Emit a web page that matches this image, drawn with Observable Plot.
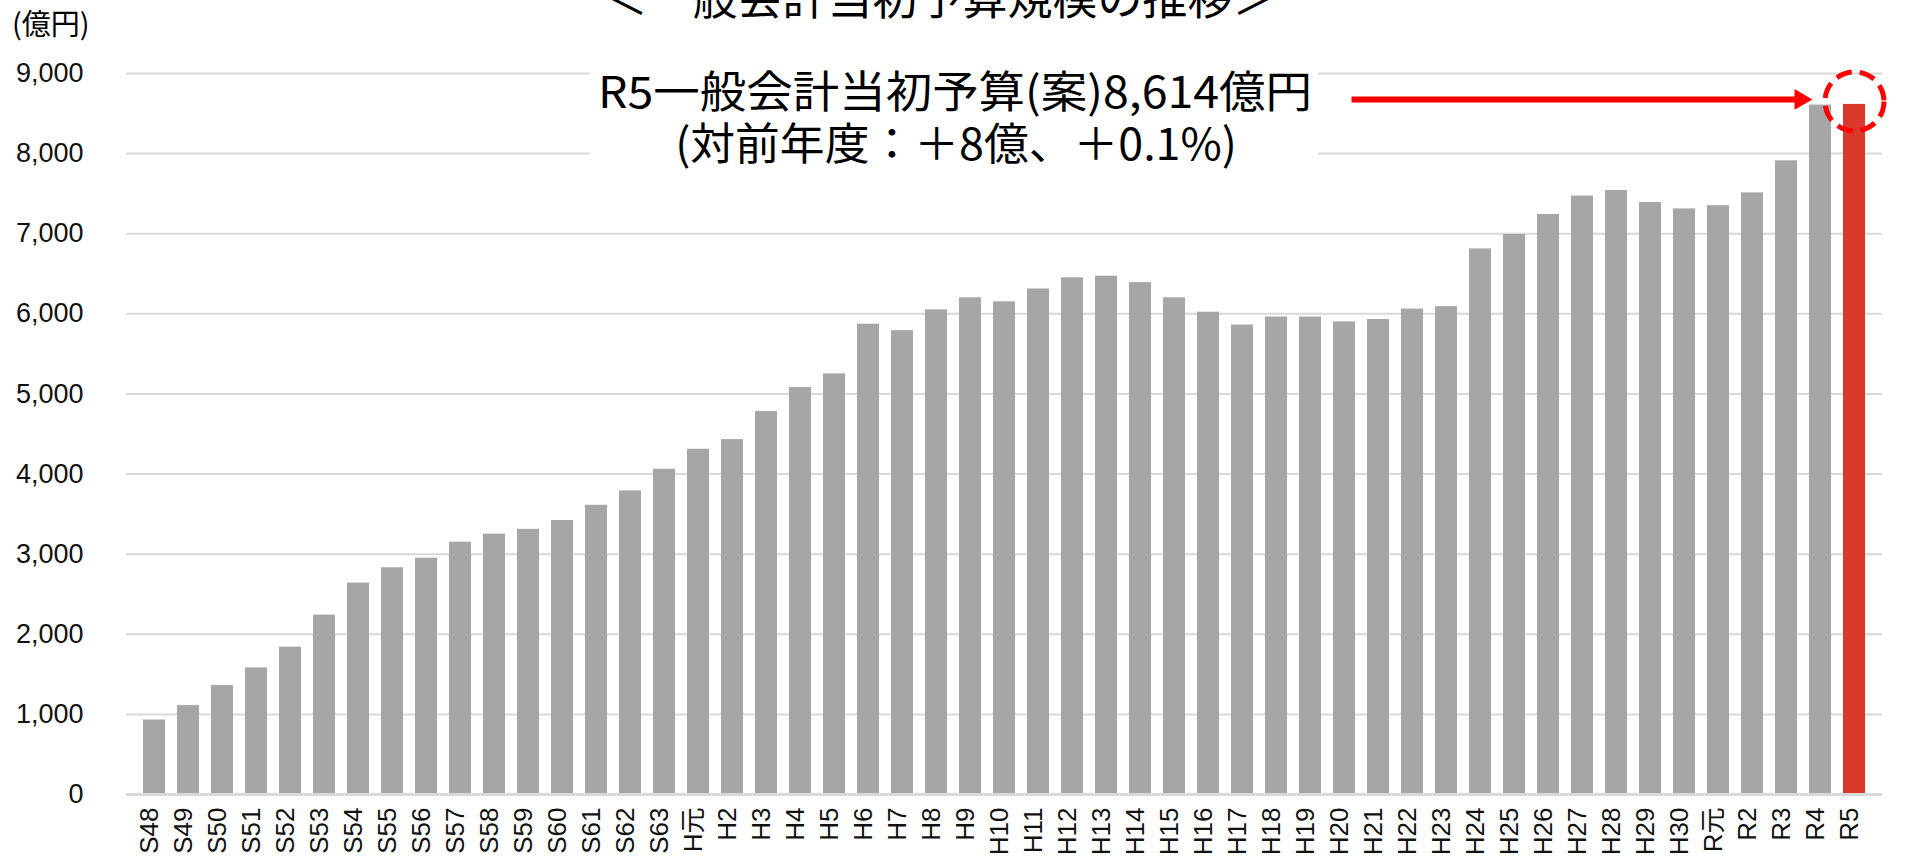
<!DOCTYPE html>
<html>
<head>
<meta charset="utf-8">
<script src="https://cdn.jsdelivr.net/npm/d3@7"></script>
<script src="https://cdn.jsdelivr.net/npm/@observablehq/plot@0.6"></script>
<style>
  html, body { margin: 0; padding: 0; background: #fff; }
  #chart { position: relative; width: 1914px; height: 860px; overflow: hidden; }
</style>
</head>
<body>
<div id="chart"></div>
<script>
// ---- data ----
const years = ["S48","S49","S50","S51","S52","S53","S54","S55","S56","S57","S58","S59","S60","S61","S62","S63",
  "H元","H2","H3","H4","H5","H6","H7","H8","H9","H10","H11","H12","H13","H14","H15","H16","H17","H18","H19","H20",
  "H21","H22","H23","H24","H25","H26","H27","H28","H29","H30","R元","R2","R3","R4","R5"];
const budget = [930,1110,1360,1580,1840,2240,2640,2830,2950,3150,3250,3310,3420,3610,3790,4060,
  4310,4430,4780,5080,5250,5870,5790,6050,6200,6150,6310,6450,6470,6390,6200,6020,5860,5960,5960,5900,
  5930,6060,6090,6810,6990,7240,7470,7540,7390,7310,7350,7510,7910,8606,8614];
const highlightYear = "R5";
const yTicks = [0,1000,2000,3000,4000,5000,6000,7000,8000,9000];
const unitLabel = "(億円)";
const titleText = "＜一般会計当初予算規模の推移＞";
const calloutLine1 = "R5一般会計当初予算(案)8,614億円";
const calloutLine2 = "(対前年度：＋8億、＋0.1%)";
const arrowFrom = "H20";
const arrowTo = "R4";

const data = years.map((year, i) => ({year, value: budget[i]}));
const highlighted = data.filter(d => d.year === highlightYear);
const others = data.filter(d => d.year !== highlightYear);
const callout = highlighted.map(d => ({from: arrowFrom, to: arrowTo, target: d.year, value: d.value}));

const LATIN = "'Liberation Sans', 'Noto Sans CJK JP', sans-serif";
const CJK = "'Noto Sans CJK JP', sans-serif";

const chart = Plot.plot({
  width: 1914,
  height: 860,
  marginLeft: 126,
  marginRight: 32,
  marginTop: 73,
  marginBottom: 66,
  style: {fontFamily: LATIN, background: "#fff", color: "#111"},
  x: {domain: years, paddingInner: 0.35, paddingOuter: 0.19, label: null},
  y: {domain: [0, 9000], label: null},
  marks: [
    Plot.gridY(yTicks.filter(t => t > 0), {stroke: "#d9d9d9", strokeOpacity: 1, strokeWidth: 2}),
    Plot.barY(others, {x: "year", y: "value", fill: "#a6a6a6"}),
    Plot.barY(highlighted, {x: "year", y: "value", fill: "#d9382a"}),
    Plot.ruleY([0], {stroke: "#d9d9d9", strokeWidth: 3}),
    Plot.axisY({ticks: yTicks, tickFormat: d3.format(","), tickSize: 0, tickPadding: 43, fontSize: 27, label: null}),
    Plot.axisX({tickRotate: -90, tickSize: 0, tickPadding: 13, fontSize: 26, dx: -5, label: null}),
    Plot.arrow(callout, {x1: "from", x2: "to", y1: "value", y2: "value", dy: -5,
      stroke: "#ff0000", strokeWidth: 6, headLength: 0, insetStart: 7, insetEnd: 22, strokeLinecap: "butt"}),
    Plot.dot(callout, {x: "to", y: "value", dy: -5, dx: -20, symbol: "triangle", rotate: 90, r: 7.7,
      fill: "#ff0000", stroke: "none"}),
    Plot.dot(callout, {x: "target", y: "value", dy: -3, r: 29.5, fill: "none",
      stroke: "#ff0000", strokeWidth: 5, strokeDasharray: "16,8"})
  ]
});

document.getElementById("chart").appendChild(chart);

// ---- text annotations (title, unit, callout box) ----
const svg = d3.select(chart);
const ann = svg.append("g").attr("font-family", CJK).attr("fill", "#000");

ann.append("rect").attr("x", 590).attr("y", 56).attr("width", 728).attr("height", 108).attr("fill", "#fff");

function fitText(g, text, cx, baseline, size, targetWidth) {
  const t = g.append("text").attr("font-size", size).attr("text-anchor", "middle")
    .attr("x", 0).attr("y", 0).text(text);
  const w = t.node().getComputedTextLength();
  const s = targetWidth ? targetWidth / w : 1;
  t.attr("transform", `translate(${cx},${baseline}) scale(${s},1)`);
  return t;
}

fitText(ann, titleText, 940, 15, 45, 675);
fitText(ann, calloutLine1, 955, 108, 44, 714);
fitText(ann, calloutLine2, 956, 160, 44, 562);
ann.append("text").attr("x", 12).attr("y", 35).attr("font-size", 29)
  .attr("text-anchor", "start").text(unitLabel);
</script>
</body>
</html>
